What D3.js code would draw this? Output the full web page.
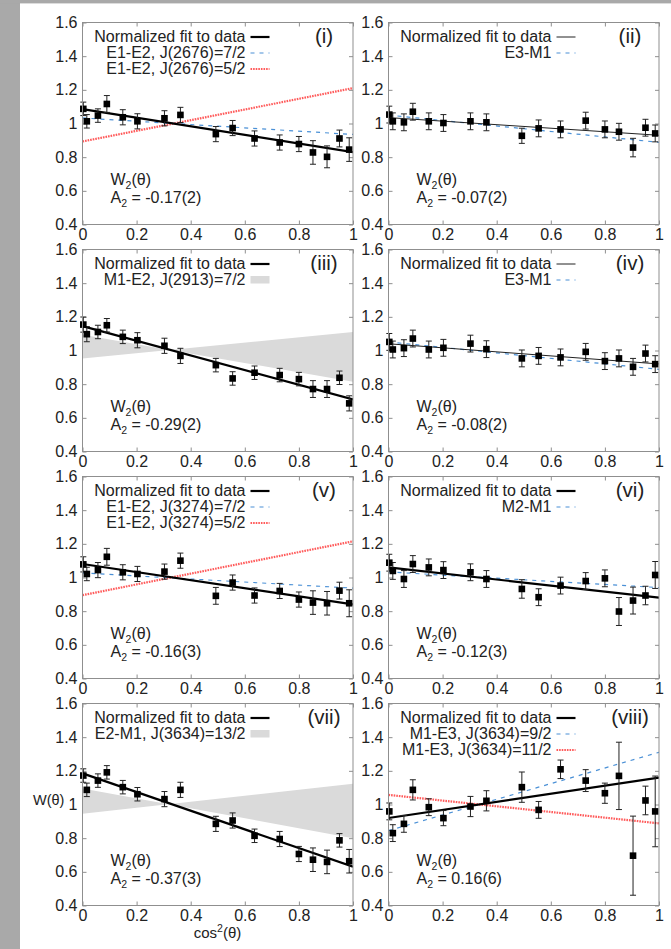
<!DOCTYPE html>
<html>
<head>
<meta charset="utf-8">
<script src="https://cdn.jsdelivr.net/npm/d3@7"></script>
<style>
  html, body { margin: 0; padding: 0; background: #fff; }
  svg { display: block; font-family: "Liberation Sans", Arial, Helvetica, sans-serif; }
</style>
</head>
<body>
<svg id="chart" width="671" height="949"></svg>
<script>
// ---- measured angular distribution points, x = cos^2(theta) ----
const cosSq = [0.003, 0.016, 0.057, 0.090, 0.149, 0.203, 0.303, 0.362, 0.493, 0.555, 0.636, 0.729, 0.800, 0.852, 0.904, 0.950, 0.986];

const yI    = [1.087, 1.013, 1.047, 1.116, 1.037, 1.013, 1.031, 1.051, 0.937, 0.973, 0.911, 0.887, 0.878, 0.828, 0.802, 0.911, 0.845];
const errI  = [0.04, 0.04, 0.04, 0.05, 0.045, 0.045, 0.045, 0.045, 0.045, 0.045, 0.045, 0.045, 0.045, 0.07, 0.065, 0.05, 0.07];
const yII   = [1.053, 1.013, 1.007, 1.070, 1.013, 1.003, 1.013, 1.007, 0.927, 0.971, 0.965, 1.017, 0.965, 0.951, 0.857, 0.975, 0.941];
const errII = [0.05, 0.05, 0.05, 0.05, 0.05, 0.05, 0.05, 0.05, 0.045, 0.05, 0.05, 0.05, 0.05, 0.05, 0.055, 0.05, 0.05];
const yIII  = [1.154, 1.097, 1.110, 1.150, 1.081, 1.061, 1.028, 0.968, 0.913, 0.834, 0.868, 0.854, 0.830, 0.771, 0.771, 0.838, 0.686];
const errIII = [0.045, 0.045, 0.04, 0.04, 0.04, 0.045, 0.045, 0.045, 0.04, 0.04, 0.04, 0.04, 0.04, 0.05, 0.05, 0.04, 0.045];
const yIV   = [1.051, 1.006, 1.014, 1.071, 1.006, 1.016, 1.041, 1.008, 0.953, 0.968, 0.959, 0.992, 0.937, 0.953, 0.903, 0.982, 0.919];
const errIV = [0.05, 0.05, 0.05, 0.05, 0.05, 0.05, 0.05, 0.05, 0.05, 0.05, 0.05, 0.05, 0.05, 0.05, 0.05, 0.05, 0.05];
const yV    = [1.078, 1.021, 1.044, 1.123, 1.031, 1.021, 1.035, 1.100, 0.891, 0.970, 0.893, 0.920, 0.869, 0.851, 0.847, 0.922, 0.847];
const errV  = [0.045, 0.04, 0.045, 0.05, 0.045, 0.045, 0.045, 0.045, 0.05, 0.045, 0.045, 0.045, 0.045, 0.07, 0.07, 0.05, 0.08];
const yVI   = [1.088, 1.039, 0.991, 1.080, 1.060, 1.044, 1.031, 0.991, 0.932, 0.883, 0.952, 0.979, 0.995, 0.798, 0.863, 0.893, 1.015];
const errVI = [0.05, 0.05, 0.05, 0.05, 0.05, 0.05, 0.05, 0.05, 0.055, 0.05, 0.05, 0.05, 0.05, 0.083, 0.08, 0.055, 0.08];
const yVII  = [1.172, 1.087, 1.142, 1.191, 1.103, 1.061, 1.032, 1.087, 0.885, 0.905, 0.814, 0.795, 0.706, 0.672, 0.659, 0.787, 0.663];
const errVII = [0.04, 0.04, 0.04, 0.04, 0.04, 0.04, 0.045, 0.045, 0.045, 0.045, 0.04, 0.045, 0.045, 0.07, 0.07, 0.04, 0.07];
const yVIII = [0.959, 0.830, 0.885, 1.087, 0.984, 0.919, 0.988, 1.022, 1.103, 0.968, 1.209, 1.142, 1.067, 1.170, 0.696, 1.024, 0.959];
const errVIII = [0.05, 0.05, 0.05, 0.06, 0.05, 0.045, 0.06, 0.06, 0.09, 0.05, 0.055, 0.065, 0.06, 0.2, 0.235, 0.085, 0.21];

// ---- fitted A2 coefficients (W = 1 + A2 * P2(cos theta)) ----
const a2Values = [-0.17, -0.07, -0.29, -0.08, -0.16, -0.12, -0.37, 0.16];
const a2Labels = ["-0.17(2)", "-0.07(2)", "-0.29(2)", "-0.08(2)", "-0.16(3)", "-0.12(3)", "-0.37(3)", "0.16(6)"];
const panelNames = ["(i)", "(ii)", "(iii)", "(iv)", "(v)", "(vi)", "(vii)", "(viii)"];

// ---- calculated distributions: values at cos^2 = 0 and cos^2 = 1 ----
const theoryX = [0, 1];
const blueI = [1.033, 0.935], redI = [0.893, 1.21];
const blueII = [1.05, 0.888];
const bandIIIa = [1.093, 0.814], bandIIIb = [0.953, 1.11];
const blueIV = [1.051, 0.888];
const blueV = [1.027, 0.937], redV = [0.895, 1.215];
const blueVI = [1.033, 0.94];
const bandVIIa = [1.095, 0.80], bandVIIb = [0.945, 1.124];
const blueVIII = [0.845, 1.31], redVIII = [1.057, 0.888];

// ---- legend entries ----
const legendI = [["Normalized fit to data", "fit"], ["E1-E2, J(2676)=7/2", "blue"], ["E1-E2, J(2676)=5/2", "red"]];
const legendII = [["Normalized fit to data", "fitThin"], ["E3-M1", "blue"]];
const legendIII = [["Normalized fit to data", "fit"], ["M1-E2, J(2913)=7/2", "band"]];
const legendIV = [["Normalized fit to data", "fitThin"], ["E3-M1", "blue"]];
const legendV = [["Normalized fit to data", "fit"], ["E1-E2, J(3274)=7/2", "blue"], ["E1-E2, J(3274)=5/2", "red"]];
const legendVI = [["Normalized fit to data", "fit"], ["M2-M1", "blue"]];
const legendVII = [["Normalized fit to data", "fit"], ["E2-M1, J(3634)=13/2", "band"]];
const legendVIII = [["Normalized fit to data", "fit"], ["M1-E3, J(3634)=9/2", "blue"], ["M1-E3, J(3634)=11/2", "red"]];

const xTicks = [0, 0.2, 0.4, 0.6, 0.8, 1];
const yTicks = [0.4, 0.6, 0.8, 1, 1.2, 1.4, 1.6];

const panels = [
  { y: yI, err: errI, fitStyle: "fit", blue: blueI, red: redI, legend: legendI },
  { y: yII, err: errII, fitStyle: "fitThin", blue: blueII, legend: legendII },
  { y: yIII, err: errIII, fitStyle: "fit", band: [bandIIIa, bandIIIb], legend: legendIII },
  { y: yIV, err: errIV, fitStyle: "fitThin", blue: blueIV, legend: legendIV },
  { y: yV, err: errV, fitStyle: "fit", blue: blueV, red: redV, legend: legendV },
  { y: yVI, err: errVI, fitStyle: "fit", blue: blueVI, legend: legendVI },
  { y: yVII, err: errVII, fitStyle: "fit", band: [bandVIIa, bandVIIb], legend: legendVII },
  { y: yVIII, err: errVIII, fitStyle: "fit", blue: blueVIII, red: redVIII, legend: legendVIII }
];
panels.forEach((p, i) => { p.name = panelNames[i]; p.a2 = a2Values[i]; p.a2Label = a2Labels[i]; });

// ---- styles ----
const styles = {
  fit:     { stroke: "#000", width: 2.2, dash: null },
  fitThin: { stroke: "#222", width: 1, dash: null },
  blue:    { stroke: "#4a90d6", width: 1.2, dash: "4,5" },
  red:     { stroke: "#ff5a5a", width: 2.2, dash: "1.6,1" },
  band:    { fill: "#dadada" }
};
const frameColor = "#8f8f8f";
const textColor = "#222";

const W = 671, H = 949;
const svg = d3.select("#chart");
svg.append("rect").attr("width", W).attr("height", H).attr("fill", "#fff");
svg.append("rect").attr("x", 0).attr("y", 0).attr("width", 20).attr("height", H).attr("fill", "#a9a9a9");
svg.append("rect").attr("x", 0).attr("y", 0).attr("width", W).attr("height", 3.4).attr("fill", "#a9a9a9");

const plotW = 270.5, plotH = 202;
const fmt = d => String(+d.toFixed(1));

function styleAxis(sel, withText) {
  sel.select(".domain").remove();
  sel.selectAll(".tick line").attr("stroke", frameColor).attr("stroke-width", 1);
  sel.attr("font-family", null).attr("font-size", null);
  if (withText) {
    sel.selectAll(".tick text").attr("fill", textColor).attr("font-size", 16);
  } else {
    sel.selectAll(".tick text").remove();
  }
}

panels.forEach((p, i) => {
  const col = i % 2, row = Math.floor(i / 2);
  const left = 82.5 + col * 306, top = 22.5 + row * 227;
  const g = svg.append("g").attr("transform", `translate(${left},${top})`);

  const x = d3.scaleLinear().domain([0, 1]).range([0, plotW]);
  const y = d3.scaleLinear().domain([0.4, 1.6]).range([plotH, 0]);

  // axes with inward ticks on all four sides
  g.append("g").attr("transform", `translate(0,${plotH})`)
    .call(d3.axisBottom(x).tickValues(xTicks).tickSizeInner(-4).tickSizeOuter(0).tickPadding(4).tickFormat(fmt))
    .call(s => styleAxis(s, true));
  g.append("g")
    .call(d3.axisTop(x).tickValues(xTicks).tickSizeInner(-4).tickSizeOuter(0).tickFormat(""))
    .call(s => styleAxis(s, false));
  g.append("g")
    .call(d3.axisLeft(y).tickValues(yTicks).tickSizeInner(-4).tickSizeOuter(0).tickPadding(5).tickFormat(fmt))
    .call(s => styleAxis(s, true));
  g.append("g").attr("transform", `translate(${plotW},0)`)
    .call(d3.axisRight(y).tickValues(yTicks).tickSizeInner(-4).tickSizeOuter(0).tickFormat(""))
    .call(s => styleAxis(s, false));

  const clipId = "clip" + i;
  g.append("clipPath").attr("id", clipId).append("rect").attr("width", plotW).attr("height", plotH);
  const plot = g.append("g").attr("clip-path", `url(#${clipId})`);

  // shaded band of calculated distributions
  if (p.band) {
    const [a, b] = p.band;
    const area = d3.area().x((d, k) => x(theoryX[k])).y0((d, k) => y(a[k])).y1((d, k) => y(b[k]));
    plot.append("path").datum(theoryX).attr("d", area).attr("fill", styles.band.fill).attr("stroke", "none");
  }

  const line = d3.line().x(d => x(d[0])).y(d => y(d[1]));
  function drawLine(vals, st) {
    plot.append("path")
      .datum(theoryX.map((t, k) => [t, vals[k]]))
      .attr("d", line)
      .attr("fill", "none")
      .attr("stroke", st.stroke)
      .attr("stroke-width", st.width)
      .attr("stroke-dasharray", st.dash);
  }
  if (p.red) drawLine(p.red, styles.red);
  if (p.blue) drawLine(p.blue, styles.blue);

  // fitted Legendre expansion, W = 1 + A2 * (3x - 1) / 2
  const fitVals = theoryX.map(t => 1 + p.a2 * (3 * t - 1) / 2);
  drawLine(fitVals, styles[p.fitStyle]);

  // error bars and square markers
  const pts = cosSq.map((c, k) => ({ x: c, y: p.y[k], e: p.err[k] }));
  const eb = g.append("g").attr("stroke", "#222").attr("stroke-width", 1);
  pts.forEach(d => {
    const cx = x(d.x), y0 = y(d.y - d.e), y1 = y(d.y + d.e);
    eb.append("line").attr("x1", cx).attr("x2", cx).attr("y1", y0).attr("y2", y1);
    eb.append("line").attr("x1", cx - 3).attr("x2", cx + 3).attr("y1", y0).attr("y2", y0);
    eb.append("line").attr("x1", cx - 3).attr("x2", cx + 3).attr("y1", y1).attr("y2", y1);
  });
  const ms = 6.6;
  g.append("g").selectAll("rect").data(pts).join("rect")
    .attr("x", d => x(d.x) - ms / 2).attr("y", d => y(d.y) - ms / 2)
    .attr("width", ms).attr("height", ms).attr("fill", "#000");

  // frame
  g.append("rect").attr("width", plotW).attr("height", plotH)
    .attr("fill", "none").attr("stroke", frameColor).attr("stroke-width", 1);

  // legend
  p.legend.forEach(([label, key], j) => {
    const by = 19 + 16 * j;
    g.append("text").attr("x", 163).attr("y", by).attr("text-anchor", "end")
      .attr("font-size", 16).attr("fill", textColor).text(label);
    const st = styles[key];
    if (key === "band") {
      g.append("rect").attr("x", 168).attr("y", by - 8.5).attr("width", 19).attr("height", 7.5).attr("fill", st.fill);
    } else {
      g.append("line").attr("x1", 168).attr("x2", 187).attr("y1", by - 4.5).attr("y2", by - 4.5)
        .attr("stroke", st.stroke).attr("stroke-width", st.width).attr("stroke-dasharray", st.dash);
    }
  });

  // panel tag
  g.append("text").attr("x", 241.5).attr("y", 20.5).attr("text-anchor", "middle")
    .attr("font-size", 20.5).attr("fill", textColor).text(p.name);

  // W2 annotation
  const t1 = g.append("text").attr("x", 28).attr("y", plotH - 39.5).attr("font-size", 16).attr("fill", textColor);
  t1.append("tspan").text("W");
  t1.append("tspan").attr("font-size", 10.5).attr("dy", 3.5).text("2");
  t1.append("tspan").attr("dy", -3.5).text("(θ)");
  const t2 = g.append("text").attr("x", 28).attr("y", plotH - 21.5).attr("font-size", 16).attr("fill", textColor);
  t2.append("tspan").text("A");
  t2.append("tspan").attr("font-size", 10.5).attr("dy", 3.5).text("2");
  t2.append("tspan").attr("dy", -3.5).text(" = " + p.a2Label);
});

// shared axis titles
svg.append("text").attr("x", 33).attr("y", 805).attr("font-size", 14.5).attr("fill", textColor).text("W(θ)");
const xt = svg.append("text").attr("x", 217.5).attr("y", 938).attr("text-anchor", "middle")
  .attr("font-size", 15).attr("fill", textColor);
xt.append("tspan").text("cos");
xt.append("tspan").attr("font-size", 10.5).attr("dy", -6).text("2");
xt.append("tspan").attr("dy", 6).text("(θ)");
</script>
</body>
</html>
